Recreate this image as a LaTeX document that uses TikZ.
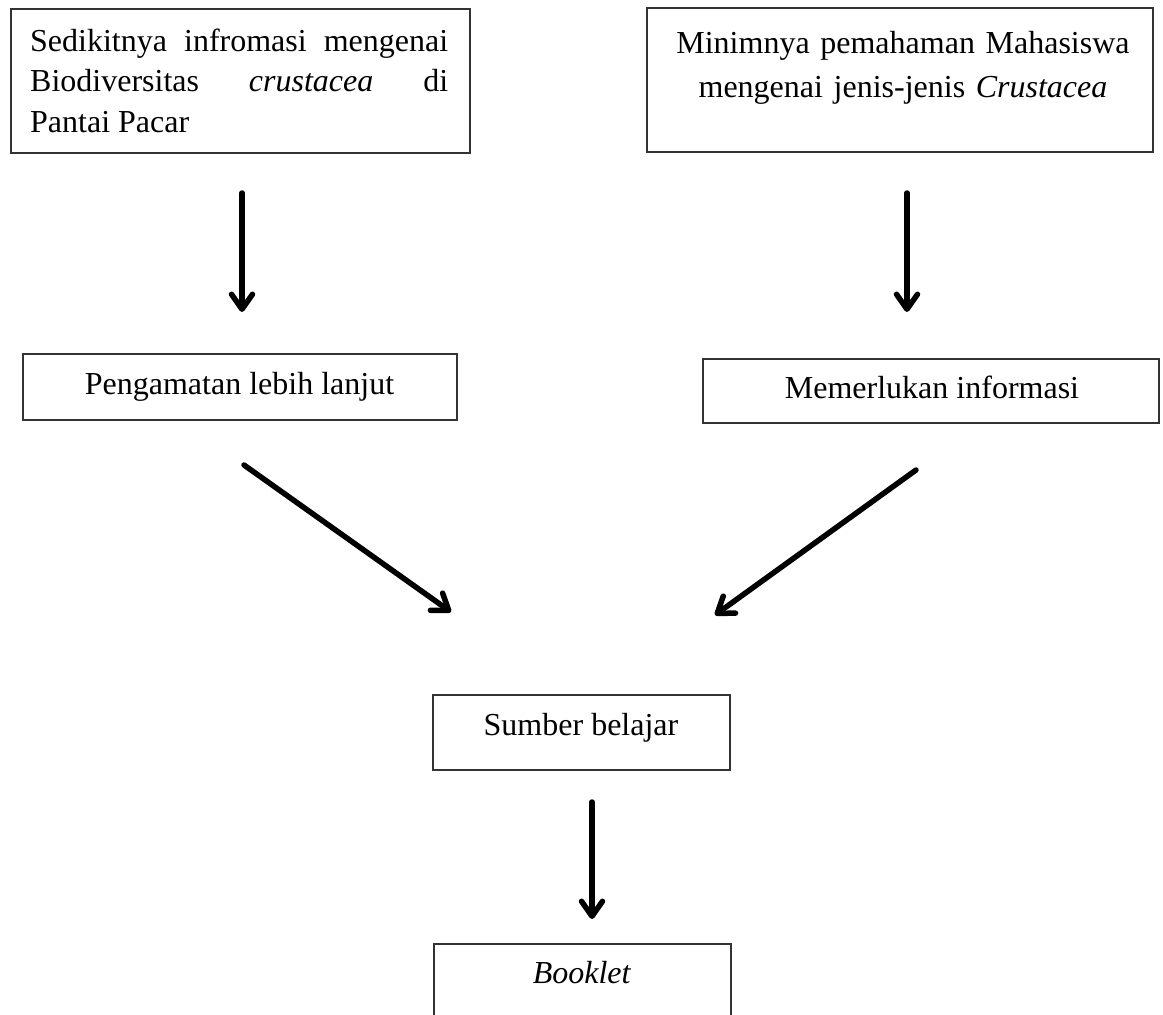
\documentclass[tikz,border=0pt]{standalone}
\usepackage{fontspec}
\setmainfont{Liberation Serif}
\usetikzlibrary{arrows.meta}
\begin{document}
\begin{tikzpicture}[x=1pt,y=-1pt,
  box/.style={draw=black!80, line width=1.3pt, rectangle, inner sep=0pt},
  txt/.style={inner sep=0pt, font=\fontsize{32}{40.5}\selectfont},
  arr/.style={line width=5.5pt, line cap=round, -{Straight Barb[length=15pt,width=21pt,round]}}]
\useasboundingbox (0,0) rectangle (1163,1015);
\clip (0,0) rectangle (1163,1015);
\fill[white] (0,0) rectangle (1163,1015);
% boxes
\node[box, minimum width=459, minimum height=144] (b1) at (240.5,81) {};
\node[box, minimum width=506, minimum height=144] (b2) at (900,80) {};
\node[box, minimum width=434, minimum height=66] (b3) at (240,387) {};
\node[box, minimum width=456, minimum height=64] (b4) at (931,391) {};
\node[box, minimum width=297, minimum height=75] (b5) at (581.5,732.5) {};
\node[box, minimum width=297, minimum height=100] (b6) at (582.5,994) {};
% texts
\node[txt, text width=418, align=justify, anchor=base west] (t1) at (30,51)
  {Sedikitnya infromasi mengenai\linebreak Biodiversitas \textit{crustacea} di\linebreak Pantai Pacar};
\node[txt, text width=500, align=center, anchor=base, font=\fontsize{32}{44}\selectfont] (t2) at (903,53)
  {Minimnya pemahaman Mahasiswa\\ mengenai jenis-jenis \textit{Crustacea}};
\node[txt, anchor=base] (t3) at (239.5,394) {Pengamatan lebih lanjut};
\node[txt, anchor=base] (t4) at (932,398) {Memerlukan informasi};
\node[txt, anchor=base] (t5) at (581,735) {Sumber belajar};
\node[txt, anchor=base] (t6) at (582,983) {\textit{Booklet}};
% arrow ends
\coordinate (a1s) at (242,193); \coordinate (a1e) at (242,312);
\coordinate (a2s) at (907,193); \coordinate (a2e) at (907,312);
\coordinate (a3s) at (244,465); \coordinate (a3e) at (451,612);
\coordinate (a4s) at (916,470); \coordinate (a4e) at (715,615);
\coordinate (a5s) at (592,802); \coordinate (a5e) at (592,919);
\draw[arr] (a1s) -- (a1e);
\draw[arr] (a2s) -- (a2e);
\draw[arr] (a3s) -- (a3e);
\draw[arr] (a4s) -- (a4e);
\draw[arr] (a5s) -- (a5e);
\end{tikzpicture}
\end{document}
